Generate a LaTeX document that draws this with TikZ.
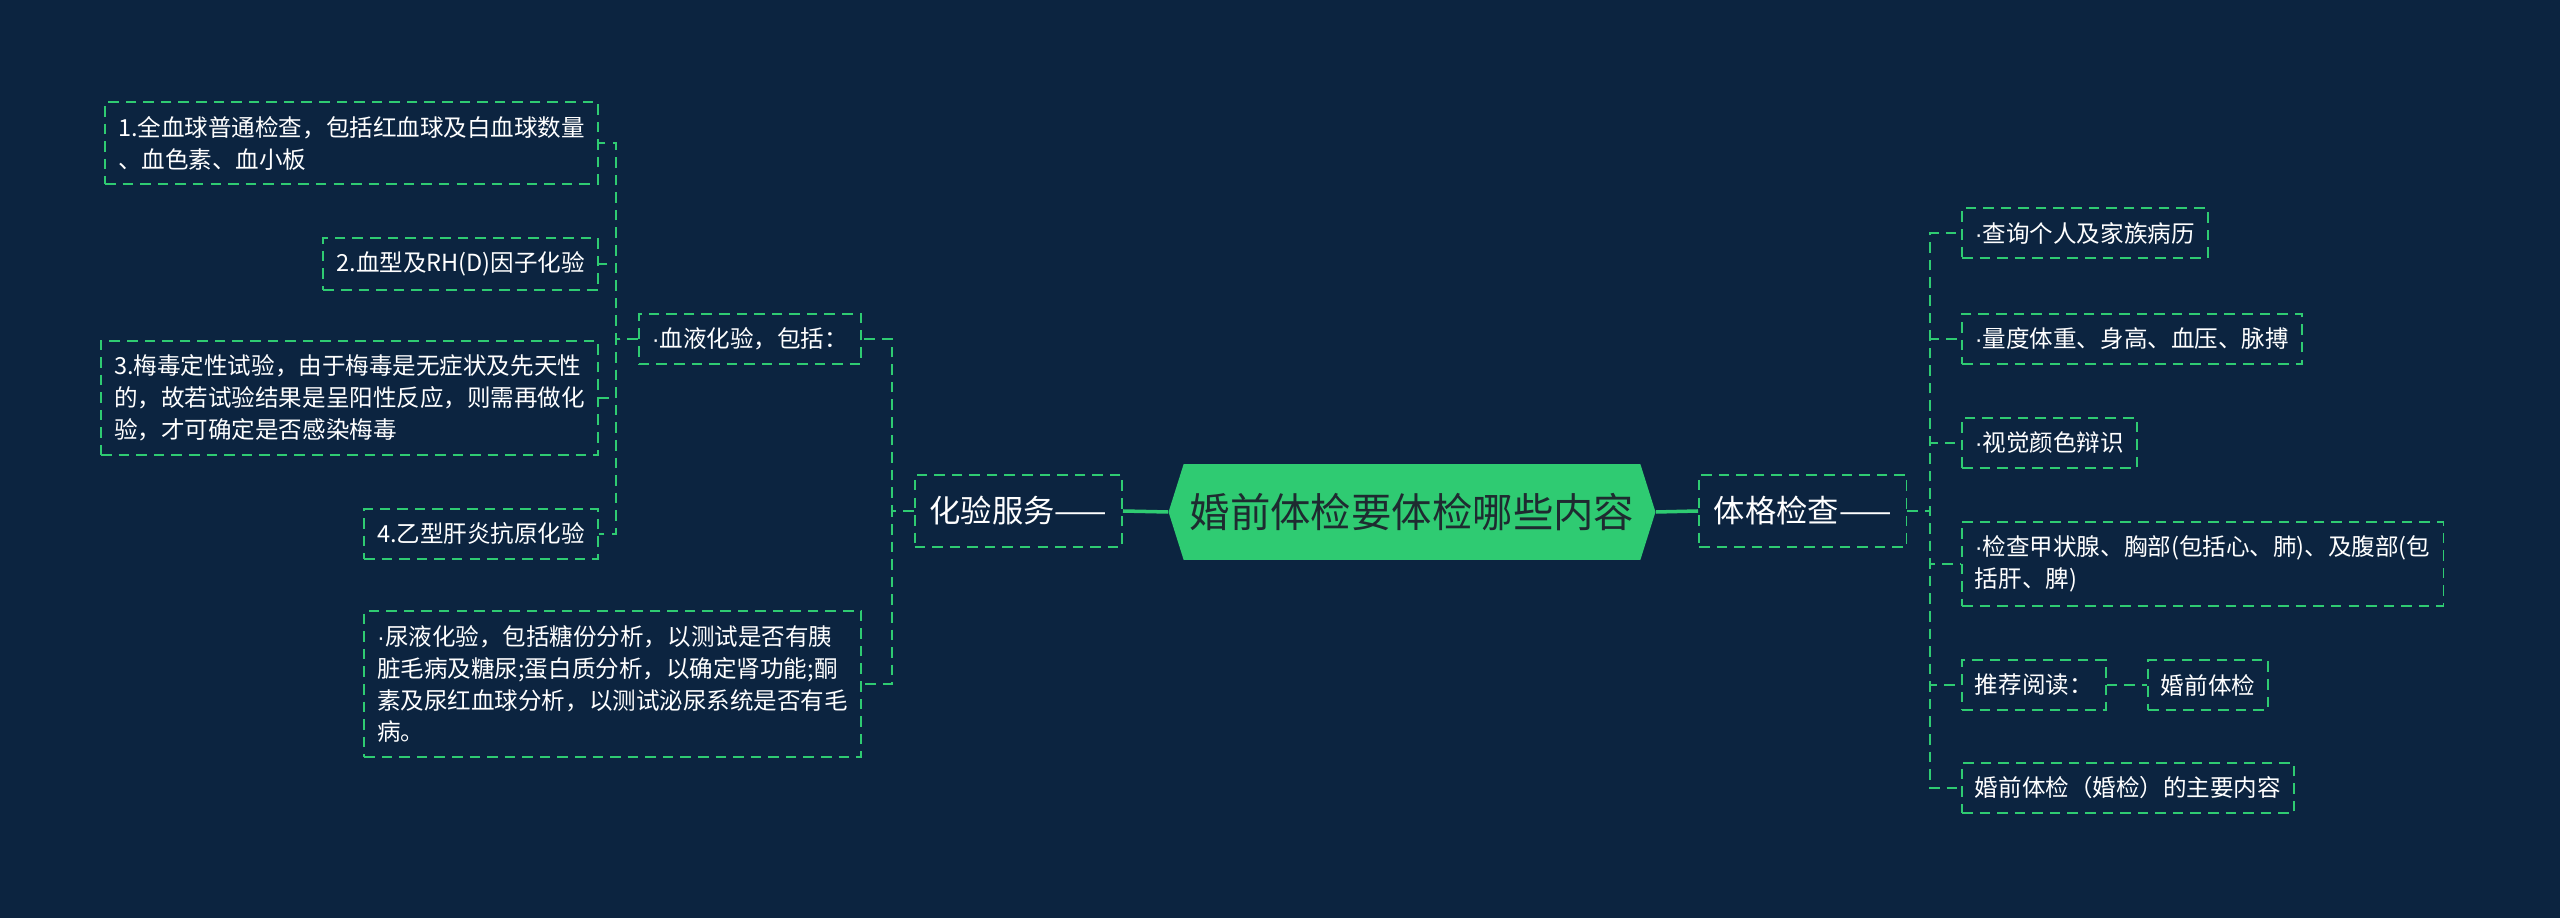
\documentclass[tikz,border=0pt]{standalone}
\usepackage{fontspec}
\setmainfont{Noto Sans CJK SC}
\newfontfamily\dotfont{Liberation Sans}
\newcommand{\midot}{{\dotfont ·}}
\usepackage{xcolor}
\usetikzlibrary{shapes.symbols}
\usetikzlibrary{positioning}
\definecolor{bgnavy}{HTML}{0C2440}
\definecolor{mapgreen}{HTML}{2FCB72}
\definecolor{hubtext}{HTML}{1E2B30}

\begin{document}
\begin{tikzpicture}[x=0.02cm,y=-0.02cm,
  leaf/.style={draw=mapgreen,line width=1.1pt,dash pattern=on 6pt off 4pt,text=white,
    font=\fontsize{13.4pt}{18.2pt}\selectfont,align=left,inner xsep=0.26cm,inner ysep=0.28cm},
  branch/.style={leaf,font=\fontsize{17.8pt}{22pt}\selectfont,minimum height=1.44cm,inner xsep=0.3cm},
  hub/.style={shape=signal,signal to=west and east,signal pointer angle=145,fill=mapgreen,
    text=hubtext,font=\fontsize{23pt}{28pt}\selectfont,minimum width=9.74cm,minimum height=1.92cm,inner sep=0pt},
  link/.style={draw=mapgreen,line width=1.1pt,dash pattern=on 6pt off 4pt},
  hubline/.style={draw=mapgreen,line width=2pt},
]
\fill[bgnavy] (0,0) rectangle (2560,918);
\node[hub] (hub) at (1412,512) {婚前体检要体检哪些内容};
\node[branch,anchor=east] (lab) at (1123,511) {化验服务——};
\node[branch,anchor=west] (phys) at (1698,511) {体格检查——};
% left side
\node[leaf,anchor=east] (blood) at (862,339) {\midot 血液化验，包括：};
\node[leaf,anchor=east] (urine) at (862,684) {\midot 尿液化验，包括糖份分析，以测试是否有胰\\脏毛病及糖尿;蛋白质分析，以确定肾功能;酮\\素及尿红血球分析，以测试泌尿系统是否有毛\\病。};
\node[leaf,anchor=east] (b1) at (599,143) {1.全血球普通检查，包括红血球及白血球数量\\、血色素、血小板};
\node[leaf,anchor=east] (b2) at (599,264) {2.血型及RH(D)因子化验};
\node[leaf,anchor=east] (b3) at (599,398) {3.梅毒定性试验，由于梅毒是无症状及先天性\\的，故若试验结果是呈阳性反应，则需再做化\\验，才可确定是否感染梅毒};
\node[leaf,anchor=east] (b4) at (599,534) {4.乙型肝炎抗原化验};
% right side
\node[leaf,anchor=west] (p1) at (1961,233) {\midot 查询个人及家族病历};
\node[leaf,anchor=west] (p2) at (1961,339) {\midot 量度体重、身高、血压、脉搏};
\node[leaf,anchor=west] (p3) at (1961,443) {\midot 视觉颜色辩识};
\node[leaf,anchor=west] (p4) at (1961,564) {\midot 检查甲状腺、胸部(包括心、肺)、及腹部(包\\括肝、脾)};
\node[leaf,anchor=west] (p5) at (1961,685) {推荐阅读：};
\node[leaf,anchor=west] (p5b) at (2147,685) {婚前体检};
\node[leaf,anchor=west] (p6) at (1961,788) {婚前体检（婚检）的主要内容};
\draw[hubline] (hub.west) -- (lab.east); \draw[hubline] (hub.east) -- (phys.west);
\draw[link] (lab.west) -- ++(-22,0) |- (blood.east);
\draw[link] (lab.west) -- ++(-22,0) |- (urine.east);
\foreach \n in {b1,b2,b3,b4} \draw[link] (blood.west) -- ++(-22,0) |- (\n.east);
\foreach \n in {p1,p2,p3,p4,p5,p6} \draw[link] (phys.east) -- ++(23,0) |- (\n.west);
\draw[link] (p5.east) -- (p5b.west);
\end{tikzpicture}
\end{document}
